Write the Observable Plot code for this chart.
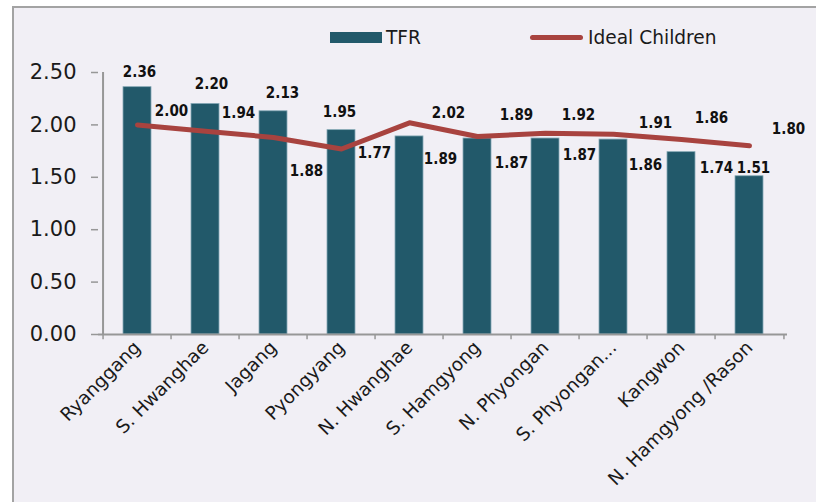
<!DOCTYPE html>
<html>
<head>
<meta charset="utf-8">
<script src="https://cdn.jsdelivr.net/npm/d3@7"></script>
<script src="https://cdn.jsdelivr.net/npm/@observablehq/plot@0.6"></script>
<style>
  html, body { margin: 0; padding: 0; background: #ffffff; }
  #wrap { position: relative; width: 816px; height: 502px; overflow: hidden; font-family: "DejaVu Sans", Verdana, sans-serif; }
  #frame { position: absolute; left: 12px; top: 6px; width: 804px; height: 496px; background: #f1eff5;
           border-left: 2px solid #a3a3a3; border-top: 2px solid #a3a3a3; box-sizing: border-box; }
  #legend { position: relative; width: 816px; height: 50px; font-size: 18.6px; color: #1a1a1a; }
  #legend .item { position: absolute; top: 24px; height: 26px; display: flex; align-items: center; }
  #legend .rect { width: 52px; height: 11px; margin-right: 4px; }
  #legend .line { width: 53px; height: 5px; border-radius: 3px; margin-right: 5px; }
  #chart { position: relative; }
  #chart svg { background: transparent; overflow: visible; }
</style>
</head>
<body>
<div id="wrap">
  <div id="frame"></div>
  <div id="legend"></div>
  <div id="chart"></div>
</div>
<script>
// ---- data ----
const categories = ["Ryanggang", "S. Hwanghae", "Jagang", "Pyongyang", "N. Hwanghae",
  "S. Hamgyong", "N. Phyongan", "S. Phyongan...", "Kangwon", "N. Hamgyong /Rason"];
const tfr = [2.36, 2.20, 2.13, 1.95, 1.89, 1.87, 1.87, 1.86, 1.74, 1.51];
const ideal = [2.00, 1.94, 1.88, 1.77, 2.02, 1.89, 1.92, 1.91, 1.86, 1.80];
const yTicks = [0, 0.5, 1.0, 1.5, 2.0, 2.5];
const seriesNames = ["TFR", "Ideal Children"];

// ---- label placement (pixel offsets from each data point, mimicking the original) ----
const tfrLabelDx = [2, 6, 9, -2, 31, 34, 34, 32, 35, 4];
const tfrLabelDy = [-15, -20, -18, -18, 23, 25, 17, 26, 16, -8];
const idealLabelDx = [34, 33, 33, 33, 39, 39, 33, 42, 30, 39];
const idealLabelDy = [-14, -18, 34, 4, -10, -21, -18, -11, -21, -17];

// ---- styles ----
const barColor = "#22596a";
const lineColor = "#a8433f";
const axisColor = "#979797";
const textColor = "#1a1a1a";

const W = 816, H = 452;
const mL = 98, mR = 29, mT = 22, mB = 168;
const step = (W - mL - mR) / categories.length;

const tfrData = categories.map((c, i) => ({cat: c, value: tfr[i], i}));
const idealData = categories.map((c, i) => ({cat: c, value: ideal[i], i}));

// legend
const legend = document.getElementById("legend");
legend.innerHTML =
  `<div class="item" style="left:330px"><div class="rect" style="background:${barColor}"></div><span>${seriesNames[0]}</span></div>` +
  `<div class="item" style="left:530px"><div class="line" style="background:${lineColor}"></div><span>${seriesNames[1]}</span></div>`;

const labelFont = {fontFamily: "DejaVu Sans Condensed, Liberation Sans, sans-serif", fontWeight: "bold", fontSize: 15, fill: "#111"};

const marks = [
  Plot.barY(tfrData, {x: "cat", y: "value", fill: barColor, stroke: "#86a9b6", strokeWidth: 0.8}),
  // axis lines
  Plot.ruleY([0], {stroke: axisColor, strokeWidth: 2}),
  Plot.ruleX([categories[0]], {dx: -step / 2, y1: 0, y2: 2.5, stroke: axisColor, strokeWidth: 2}),
  // x ticks at category boundaries
  Plot.ruleX(categories, {dx: -step / 2, y1: 0, y2: -0.05, stroke: axisColor, strokeWidth: 1.5}),
  Plot.ruleX([categories[categories.length - 1]], {dx: step / 2, y1: 0, y2: -0.05, stroke: axisColor, strokeWidth: 1.5}),
  Plot.axisY({ticks: yTicks, tickFormat: d3.format(".2f"), tickSize: 7, tickPadding: 15, fontSize: 21,
              stroke: axisColor, strokeWidth: 1.5, color: textColor, label: null,
              fontFamily: "DejaVu Sans, Verdana, sans-serif"}),
  Plot.axisX({tickSize: 0, tickRotate: -45, tickPadding: 10, fontSize: 18.5, label: null, color: textColor,
              fontFamily: "DejaVu Sans, Verdana, sans-serif"}),
  Plot.lineY(idealData, {x: "cat", y: "value", stroke: lineColor, strokeWidth: 5,
                          strokeLinecap: "round", strokeLinejoin: "round"}),
];
tfrData.forEach((d, i) => {
  marks.push(Plot.text([d], {x: "cat", y: "value", text: v => d3.format(".2f")(v.value),
    dx: tfrLabelDx[i], dy: tfrLabelDy[i], ...labelFont}));
});
idealData.forEach((d, i) => {
  marks.push(Plot.text([d], {x: "cat", y: "value", text: v => d3.format(".2f")(v.value),
    dx: idealLabelDx[i], dy: idealLabelDy[i], ...labelFont}));
});

const chart = Plot.plot({
  width: W, height: H,
  marginLeft: mL, marginRight: mR, marginTop: mT, marginBottom: mB,
  style: {background: "transparent", fontFamily: "DejaVu Sans, Verdana, sans-serif", color: textColor},
  x: {domain: categories, paddingInner: 0.594, paddingOuter: 0.297},
  y: {domain: [0, 2.5]},
  marks
});
document.getElementById("chart").appendChild(chart);
</script>
</body>
</html>
